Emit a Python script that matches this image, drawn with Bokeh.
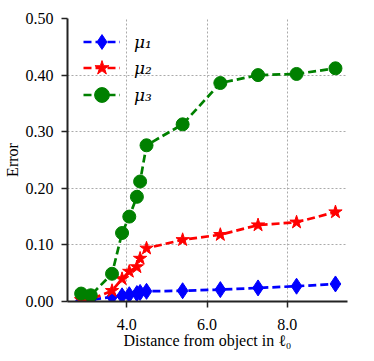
from bokeh.plotting import figure
from bokeh.models import Range1d, FixedTicker, NumeralTickFormatter, Legend, LegendItem
from bokeh.embed import file_html
from bokeh.resources import INLINE

# Data
distance = [2.86, 3.10, 3.63, 3.88, 4.06, 4.25, 4.33, 4.49, 5.39, 6.33, 7.27, 8.23, 9.20]
mu1 = [0.002, 0.003, 0.008, 0.010, 0.012, 0.014, 0.016, 0.018, 0.019, 0.021, 0.024, 0.027, 0.031]
mu2 = [0.003, 0.004, 0.019, 0.040, 0.053, 0.061, 0.076, 0.094, 0.109, 0.118, 0.135, 0.140, 0.158]
mu3 = [0.014, 0.011, 0.049, 0.121, 0.150, 0.185, 0.212, 0.276, 0.313, 0.386, 0.400, 0.402, 0.412]
series_labels = ["μ₁", "μ₂", "μ₃"]
x_ticks = [4.0, 6.0, 8.0]
y_ticks = [0.0, 0.1, 0.2, 0.3, 0.4, 0.5]

FONT = "Liberation Serif"

p = figure(width=358, height=356, output_backend="svg", toolbar_location=None,
           x_range=Range1d(2.52, 9.5), y_range=Range1d(0, 0.5),
           min_border_left=62, min_border_top=18, min_border_right=11, min_border_bottom=55)
p.outline_line_color = None
p.background_fill_color = "white"

for ax in (p.xaxis, p.yaxis):
    ax.axis_line_width = 2
    ax.axis_line_color = "#222222"
    ax.major_tick_line_width = 1.5
    ax.major_tick_line_color = "#222222"
    ax.major_tick_out = 6
    ax.major_tick_in = 0
    ax.minor_tick_line_color = None
    ax.major_label_text_font = FONT
    ax.major_label_text_font_size = "16px"
    ax.major_label_text_color = "black"
    ax.axis_label_text_font = FONT
    ax.axis_label_text_font_size = "16px"
    ax.axis_label_text_font_style = "normal"
    ax.axis_label_text_color = "black"

p.xaxis.ticker = FixedTicker(ticks=x_ticks)
p.yaxis.ticker = FixedTicker(ticks=y_ticks)
p.xaxis.formatter = NumeralTickFormatter(format="0.0")
p.yaxis.formatter = NumeralTickFormatter(format="0.00")
p.xaxis.major_label_standoff = 11
p.yaxis.major_label_standoff = 8
p.xaxis.axis_label = "Distance from object in ℓ₀"
p.yaxis.axis_label = "Error"
p.xaxis.axis_label_standoff = -1
p.yaxis.axis_label_standoff = 2

p.grid.grid_line_color = "#aaaaaa"
p.grid.grid_line_dash = "2 2"
p.grid.grid_line_width = 1
p.xgrid.ticker = FixedTicker(ticks=x_ticks)
p.ygrid.ticker = FixedTicker(ticks=y_ticks)

dash = "8 4"
l1 = p.line(distance, mu1, color="#0000ff", line_width=2.7, line_dash=dash)
s1 = p.scatter(distance, mu1, marker="diamond", size=16, color="#0000ff")
l2 = p.line(distance, mu2, color="#ff0000", line_width=2.7, line_dash=dash)
s2 = p.scatter(distance, mu2, marker="star", size=14, color="#ff0000")
l3 = p.line(distance, mu3, color="#008000", line_width=2.7, line_dash=dash)
s3 = p.scatter(distance, mu3, marker="circle", size=13, color="#008000")

# one legend per row so that rows can sit closer than the glyph box
row_renderers = [[l1, s1], [l2, s2], [l3, s3]]
row_bottoms = [241, 215, 188]
for label, rends, yb in zip(series_labels, row_renderers, row_bottoms):
    lg = Legend(items=[LegendItem(label=label, renderers=rends)])
    lg.location = (16, yb)
    lg.border_line_color = None
    lg.background_fill_alpha = 0
    lg.margin = 0
    lg.padding = 0
    lg.glyph_width = 37
    lg.glyph_height = 37
    lg.label_height = 37
    lg.label_standoff = 14
    lg.label_text_font = "DejaVu Serif"
    lg.label_text_font_style = "italic"
    lg.label_text_font_size = "17px"
    lg.label_text_color = "black"
    p.add_layout(lg, "center")

open("out.html", "w").write(file_html(p, INLINE))
